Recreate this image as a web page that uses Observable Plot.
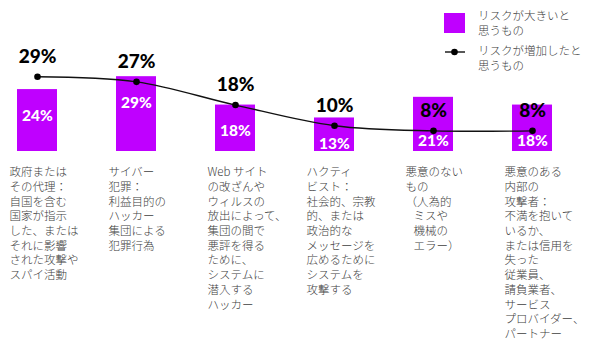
<!DOCTYPE html>
<html>
<head>
<meta charset="utf-8">
<script src="https://cdn.jsdelivr.net/npm/d3@7"></script>
<script src="https://cdn.jsdelivr.net/npm/@observablehq/plot@0.6"></script>
<style>
  html, body { margin: 0; padding: 0; background: #fff; }
  #wrap { position: relative; width: 590px; height: 351px; overflow: hidden; }
  .lg { position: absolute; font-family: "Noto Sans CJK JP", sans-serif; font-weight: 300; font-size: 11.5px; color: #404040; line-height: 15.3px; white-space: nowrap; }
</style>
</head>
<body>
<div id="wrap"></div>
<script>
const categories = ["国家", "サイバー犯罪", "ハッカー", "ハクティビスト", "悪意のないもの", "内部の攻撃者"];
const categoryLabels = [
  "政府または\nその代理：\n自国を含む\n国家が指示\nした、または\nそれに影響\nされた攻撃や\nスパイ活動",
  "サイバー\n犯罪：\n利益目的の\nハッカー\n集団による\n犯罪行為",
  "Web サイト\nの改ざんや\nウィルスの\n放出によって、\n集団の間で\n悪評を得る\nために、\nシステムに\n潜入する\nハッカー",
  "ハクティ\nビスト：\n社会的、宗教\n的、または\n政治的な\nメッセージを\n広めるために\nシステムを\n攻撃する",
  "悪意のない\nもの\n（人為的\n\u2002\u2009ミスや\n\u2002\u2009機械の\n\u2002\u2009エラー）",
  "悪意のある\n内部の\n攻撃者：\n不満を抱いて\nいるか、\nまたは信用を\n失った\n従業員、\n請負業者、\nサービス\nプロバイダー、\nパートナー"
];
const bigRisk = [24, 29, 18, 13, 21, 18];
const increasedRisk = [29, 27, 18, 10, 8, 8];
const seriesNames = ["リスクが大きいと\n思うもの", "リスクが増加したと\n思うもの"];

const purple = "#BF00FF";
const data = categories.map((c, i) => ({cat: c, label: categoryLabels[i], big: bigRisk[i], inc: increasedRisk[i]}));
const topLabel = d => d.big - d.inc < 5;

const numFont = "Lato, sans-serif";
const chart = Plot.plot({
  width: 590,
  height: 351,
  x: {type: "band", domain: categories, range: [-15, 583], paddingInner: 0.6, paddingOuter: 0.3, axis: null},
  y: {domain: [0, 30], range: [151, 73.6], axis: null},
  style: {background: "transparent"},
  marks: [
    Plot.barY(data, {x: "cat", y: "big", fill: purple}),
    Plot.line(data, {x: "cat", y: "inc", stroke: "#111", strokeWidth: 1.4, curve: "catmull-rom"}),
    Plot.dot(data, {x: "cat", y: "inc", r: 3.3, fill: "#000"}),
    Plot.text(data, {x: "cat", y: "inc", text: d => d.inc + "%", dy: -20, fill: "#000",
      fontFamily: numFont, fontWeight: 900, fontSize: 19}),
    Plot.text(data.filter(topLabel), {x: "cat", y: "big", text: d => d.big + "%", dy: 26, fill: "#fff",
      fontFamily: numFont, fontWeight: 900, fontSize: 15.5}),
    Plot.text(data.filter(d => !topLabel(d)), {x: "cat", y: 0, text: d => d.big + "%", dy: -10, fill: "#fff",
      fontFamily: numFont, fontWeight: 900, fontSize: 15.5}),
    Plot.text(data, {x: "cat", y: -5.5, text: "label", dx: -28, textAnchor: "start", lineAnchor: "top",
      lineHeight: 1.28, fill: "#404040", fontWeight: 300, fontFamily: "'Noto Sans CJK JP', sans-serif", fontSize: 11.5})
  ]
});
const wrap = document.getElementById("wrap");
wrap.appendChild(chart);

// Legend
const lg1 = document.createElement("div");
lg1.style.cssText = `position:absolute;left:444px;top:13px;width:21px;height:20px;background:${purple};`;
wrap.appendChild(lg1);
const t1 = document.createElement("div");
t1.className = "lg";
t1.style.left = "478px"; t1.style.top = "8px";
t1.innerHTML = seriesNames[0].replace("\n", "<br>");
wrap.appendChild(t1);
const ns = "http://www.w3.org/2000/svg";
const ls = document.createElementNS(ns, "svg");
ls.setAttribute("width", 24); ls.setAttribute("height", 10);
ls.style.cssText = "position:absolute;left:443px;top:47px;";
ls.innerHTML = `<line x1="2" x2="22" y1="5" y2="5" stroke="#111" stroke-width="1.4"/><circle cx="11.5" cy="5" r="3.3" fill="#000"/>`;
wrap.appendChild(ls);
const t2 = document.createElement("div");
t2.className = "lg";
t2.style.left = "478px"; t2.style.top = "42.5px";
t2.innerHTML = seriesNames[1].replace("\n", "<br>");
wrap.appendChild(t2);
</script>
</body>
</html>
